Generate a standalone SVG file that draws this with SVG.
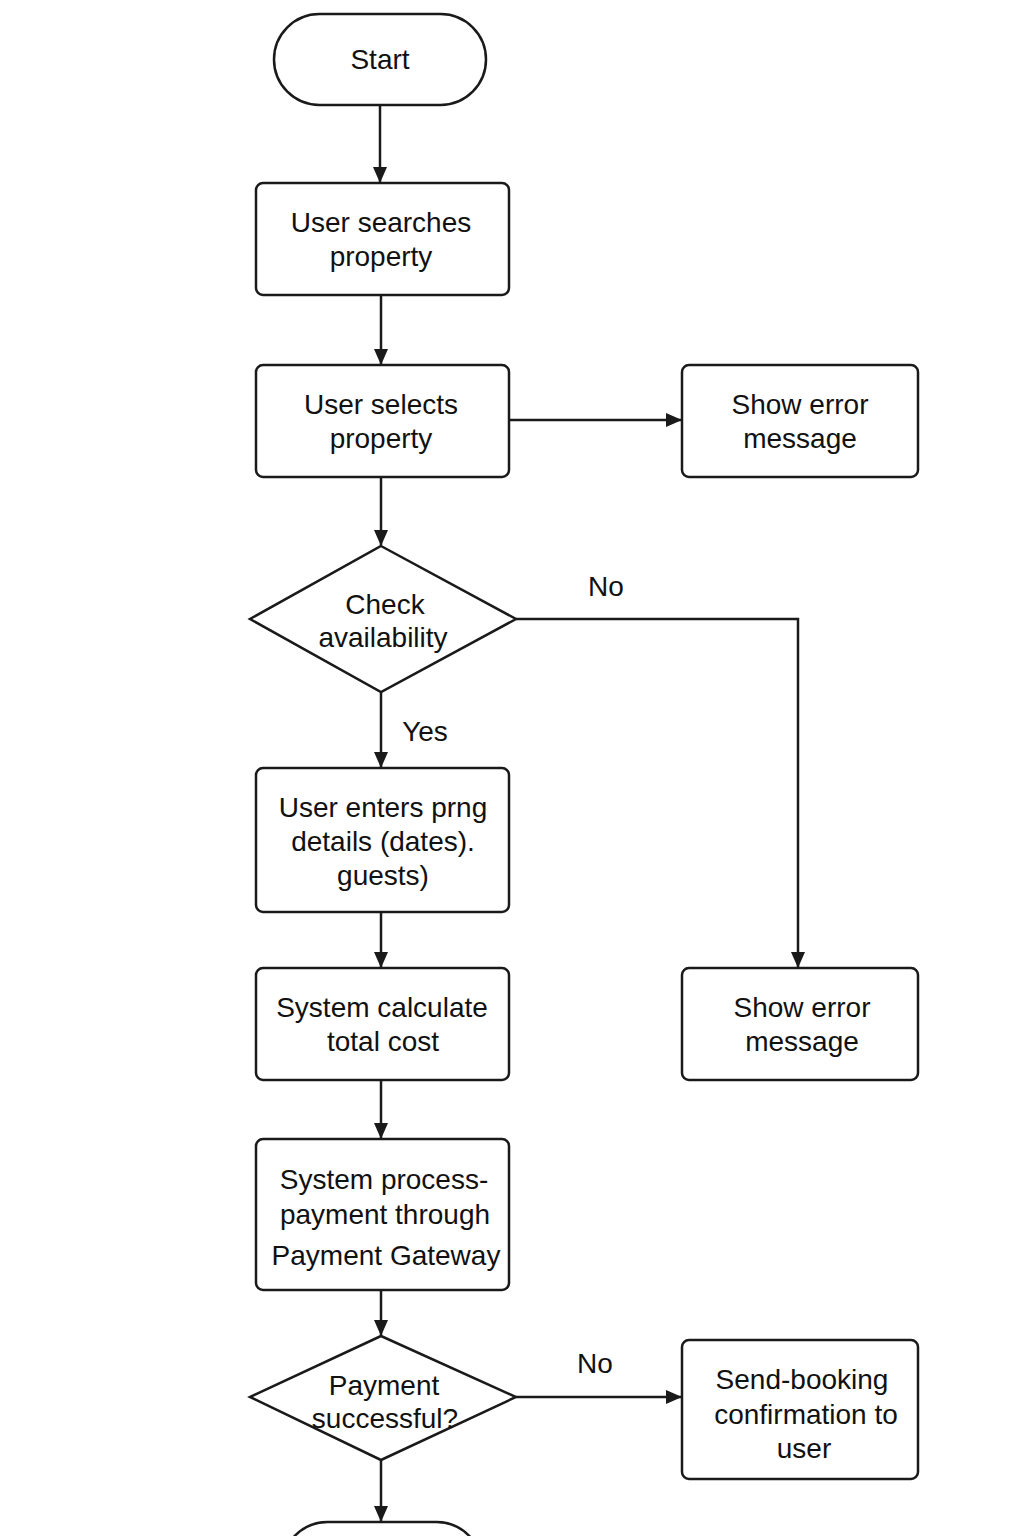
<svg xmlns="http://www.w3.org/2000/svg" width="1024" height="1536" viewBox="0 0 1024 1536">
<style>
.n{fill:#fff;stroke:#1a1a1a;stroke-width:2.5}
.t{font-family:"Liberation Sans",Arial,sans-serif;font-size:28px;fill:#111;text-anchor:middle}
.c{fill:none;stroke:#1a1a1a;stroke-width:2.5}
</style>
<defs>
<marker id="a" markerWidth="16" markerHeight="14" refX="15" refY="7" orient="auto" markerUnits="userSpaceOnUse">
<path d="M0,0 L16,7 L0,14 Z" fill="#1a1a1a"/>
</marker>
</defs>
<rect width="1024" height="1536" fill="#fff"/>
<g id="connectors">
<path class="c" d="M380,105 V182" marker-end="url(#a)"/>
<path class="c" d="M381,295 V364" marker-end="url(#a)"/>
<path class="c" d="M509,420 H681" marker-end="url(#a)"/>
<path class="c" d="M381,477 V545" marker-end="url(#a)"/>
<path class="c" d="M516,619 H798 V967" marker-end="url(#a)"/>
<path class="c" d="M381,692 V767" marker-end="url(#a)"/>
<path class="c" d="M381,912 V967" marker-end="url(#a)"/>
<path class="c" d="M381,1080 V1138" marker-end="url(#a)"/>
<path class="c" d="M381,1290 V1335" marker-end="url(#a)"/>
<path class="c" d="M516,1397 H681" marker-end="url(#a)"/>
<path class="c" d="M381,1460 V1521" marker-end="url(#a)"/>
<text class="t" x="606" y="596">No</text>
<text class="t" x="425" y="741">Yes</text>
<text class="t" x="595" y="1373">No</text>
</g>
<g id="start">
<rect class="n" x="274" y="14" width="212" height="91" rx="45.5"/>
<text class="t" x="380" y="69">Start</text>
</g>
<g id="search">
<rect class="n" x="256" y="183" width="253" height="112" rx="7"/>
<text class="t" x="381" y="232">User searches</text>
<text class="t" x="381" y="266">property</text>
</g>
<g id="select">
<rect class="n" x="256" y="365" width="253" height="112" rx="7"/>
<text class="t" x="381" y="414">User selects</text>
<text class="t" x="381" y="448">property</text>
</g>
<g id="error1">
<rect class="n" x="682" y="365" width="236" height="112" rx="7"/>
<text class="t" x="800" y="414">Show error</text>
<text class="t" x="800" y="448">message</text>
</g>
<g id="check">
<polygon class="n" points="381,546 516,619 381,692 250,619"/>
<text class="t" x="385" y="614">Check</text>
<text class="t" x="383" y="647">availability</text>
</g>
<g id="details">
<rect class="n" x="256" y="768" width="253" height="144" rx="7"/>
<text class="t" x="383" y="817">User enters prng</text>
<text class="t" x="383" y="851">details (dates).</text>
<text class="t" x="383" y="885">guests)</text>
</g>
<g id="cost">
<rect class="n" x="256" y="968" width="253" height="112" rx="7"/>
<text class="t" x="382" y="1017">System calculate</text>
<text class="t" x="383" y="1051">total cost</text>
</g>
<g id="error2">
<rect class="n" x="682" y="968" width="236" height="112" rx="7"/>
<text class="t" x="802" y="1017">Show error</text>
<text class="t" x="802" y="1051">message</text>
</g>
<g id="payment">
<rect class="n" x="256" y="1139" width="253" height="151" rx="7"/>
<text class="t" x="384" y="1189">System process-</text>
<text class="t" x="385" y="1224">payment through</text>
<text class="t" x="386" y="1265">Payment Gateway</text>
</g>
<g id="success">
<polygon class="n" points="381,1336 516,1397 381,1460 250,1397"/>
<text class="t" x="384" y="1395">Payment</text>
<text class="t" x="385" y="1428">successful?</text>
</g>
<g id="confirm">
<rect class="n" x="682" y="1340" width="236" height="139" rx="7"/>
<text class="t" x="802" y="1389">Send-booking</text>
<text class="t" x="806" y="1424">confirmation to</text>
<text class="t" x="804" y="1458">user</text>
</g>
<g id="end">
<rect class="n" x="282" y="1522" width="200" height="91" rx="45.5"/>
</g>
</svg>
